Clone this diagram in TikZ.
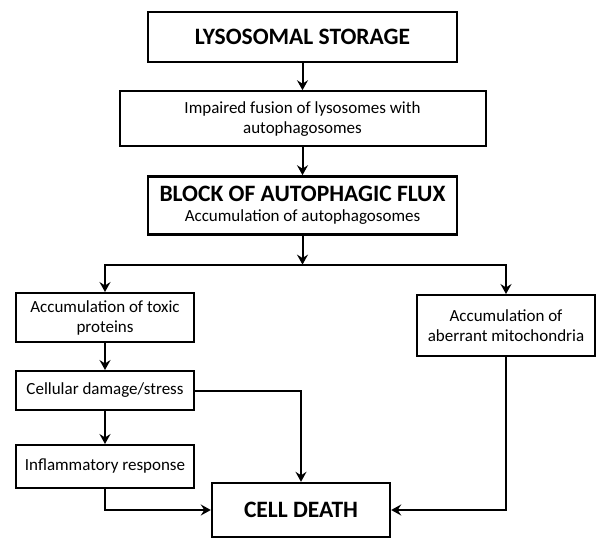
\documentclass[tikz,border=0pt]{standalone}
\usepackage{fontspec}
\setmainfont{Carlito}
\usetikzlibrary{arrows.meta,positioning}
\tikzset{
  >=Stealth,
  box/.style={draw=black,line width=2pt,fill=white,align=center,inner sep=2pt,
              font=\fontsize{17}{20}\selectfont},
  big/.style={box,line width=2.4pt,font=\fontsize{23.5}{26}\selectfont\bfseries},
  side/.style={box,minimum width=178pt},
  flow/.style={-{Stealth[length=10pt,width=11pt,inset=3.5pt]},line width=2pt},
}

\begin{document}
\begin{tikzpicture}[x=1pt,y=-1pt]
  \useasboundingbox (0,0) rectangle (612,551);
  % main column
  \node[big,minimum width=309pt,minimum height=50pt] (lys) at (302.5,37) {LYSOSOMAL STORAGE};
  \node[box,minimum width=366pt,minimum height=55pt,below=27pt of lys] (fus)
    {Impaired fusion of lysosomes with\\autophagosomes};
  \node[big,font=\fontsize{17}{20}\selectfont,minimum width=309pt,minimum height=58pt,below=28pt of fus] (blk)
    {{\fontsize{23.5}{24}\selectfont\bfseries BLOCK OF AUTOPHAGIC FLUX}\\Accumulation of autophagosomes};
  % branches
  \node[side,minimum height=49pt] (tox) at (105,317.5) {Accumulation of toxic\\proteins};
  \node[side,minimum height=39pt,below=27pt of tox] (dmg) {Cellular damage/stress};
  \node[side,minimum height=43pt,below=33pt of dmg] (inf) {Inflammatory response};
  \node[side,minimum height=61pt] (mit) at (506,325.5) {Accumulation of\\aberrant mitochondria};
  \node[big,minimum width=178pt,minimum height=54pt] (death) at (301,510) {CELL DEATH};
  \coordinate (split) at ([yshift=-29pt]blk.south);
  \draw[flow] (lys) -- (fus);
  \draw[flow] (fus) -- (blk);
  \draw[flow] (blk.south) -- (split);
  \draw[flow] (split) -| (tox.north);
  \draw[flow] (split) -| (mit.north);
  \draw[flow] (tox) -- (dmg);
  \draw[flow] (dmg) -- (inf);
  \draw[flow] (dmg.east) -| (death.north);
  \draw[flow] (inf.south) |- (death.west);
  \draw[flow] (mit.south) |- (death.east);
\end{tikzpicture}
\end{document}
